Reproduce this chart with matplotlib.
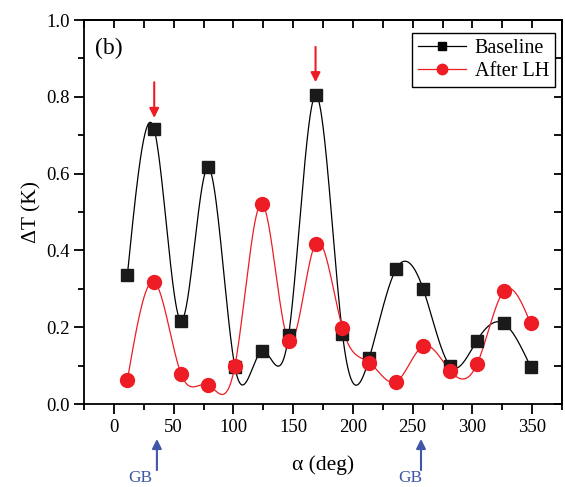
import numpy as np
import matplotlib
matplotlib.use("Agg")
from matplotlib import pyplot as plt
from matplotlib.ticker import MultipleLocator

# data
alpha = [11.25, 33.75, 56.25, 78.75, 101.25, 123.75, 146.25, 168.75,
         191.25, 213.75, 236.25, 258.75, 281.25, 303.75, 326.25, 348.75]
baseline = [0.335, 0.715, 0.217, 0.616, 0.097, 0.138, 0.180, 0.804,
            0.183, 0.120, 0.352, 0.300, 0.100, 0.165, 0.210, 0.097]
after_lh = [0.062, 0.318, 0.078, 0.050, 0.099, 0.522, 0.164, 0.418,
            0.198, 0.108, 0.058, 0.151, 0.087, 0.103, 0.294, 0.210]
peak_marks = [33.75, 168.75]
gb_marks = [36, 257]

plt.rcParams['font.family'] = ['Liberation Serif', 'DejaVu Serif']
plt.rcParams['axes.linewidth'] = 1.3


def spline(x, y, xs):
    # natural cubic spline, like the Origin "spline" line
    x = np.asarray(x, float); y = np.asarray(y, float)
    n = len(x); h = np.diff(x)
    A = np.zeros((n, n)); r = np.zeros(n)
    A[0, 0] = A[-1, -1] = 1
    for i in range(1, n - 1):
        A[i, i - 1] = h[i - 1]; A[i, i] = 2 * (h[i - 1] + h[i]); A[i, i + 1] = h[i]
        r[i] = 3 * ((y[i + 1] - y[i]) / h[i] - (y[i] - y[i - 1]) / h[i - 1])
    c = np.linalg.solve(A, r)
    b = np.diff(y) / h - h * (2 * c[:-1] + c[1:]) / 3
    d = np.diff(c) / (3 * h)
    k = np.clip(np.searchsorted(x, xs) - 1, 0, n - 2)
    t = xs - x[k]
    return y[k] + b[k] * t + c[k] * t ** 2 + d[k] * t ** 3


fig = plt.figure(figsize=(5.65, 4.87), dpi=100)
ax = fig.add_axes([0.1487, 0.1704, 0.846, 0.7885])

xs = np.linspace(alpha[0], alpha[-1], 800)
ax.plot(xs, spline(alpha, baseline, xs), color='black', lw=0.9)
ax.plot(xs, spline(alpha, after_lh, xs), color='#ee1c24', lw=0.9)
ax.plot(alpha, baseline, 's', color='#1a1a1a', ms=8.5, zorder=3)
ax.plot(alpha, after_lh, 'o', color='#ee1c24', ms=10, zorder=3)

# legend proxies
ax.plot([], [], '-s', color='black', ms=6, lw=0.9, label='Baseline')
ax.plot([], [], '-o', color='#ee1c24', ms=7.5, lw=0.9, label='After LH')
leg = ax.legend(loc='upper right', bbox_to_anchor=(0.985, 0.966), borderaxespad=0,
                fontsize=14.5, handlelength=2.4, fancybox=False, framealpha=1,
                edgecolor='black', handletextpad=0.4, borderpad=0.3, labelspacing=0.2)
leg.get_frame().set_linewidth(1.0)

ax.set_xlim(-25, 375)
ax.set_ylim(0, 1.0)
ax.xaxis.set_major_locator(MultipleLocator(50))
ax.xaxis.set_minor_locator(MultipleLocator(25))
ax.yaxis.set_major_locator(MultipleLocator(0.2))
ax.yaxis.set_minor_locator(MultipleLocator(0.1))
ax.yaxis.set_major_formatter(matplotlib.ticker.FormatStrFormatter('%.1f'))
ax.tick_params(which='major', direction='out', length=7, width=1.3, labelsize=13.5)
ax.tick_params(which='minor', direction='out', length=4, width=1.3)

# mirrored ticks pointing in on top and right
top = ax.secondary_xaxis('top')
top.xaxis.set_major_locator(MultipleLocator(50))
top.xaxis.set_minor_locator(MultipleLocator(25))
top.tick_params(which='both', direction='in', length=6, width=1.3, labeltop=False)
right = ax.secondary_yaxis('right')
right.yaxis.set_major_locator(MultipleLocator(0.2))
right.yaxis.set_minor_locator(MultipleLocator(0.1))
right.tick_params(which='both', direction='in', length=6, width=1.3, labelright=False)

ax.set_xlabel('α (deg)', fontsize=15.5, labelpad=14)
ax.set_ylabel('ΔT (K)', fontsize=15.5, labelpad=3)
ax.text(0.023, 0.927, '(b)', transform=ax.transAxes, fontsize=17, va='center', ha='left')

# red arrows over the peaks
for xm, y0, y1 in zip(peak_marks, [0.838, 0.93], [0.745, 0.838]):
    ax.annotate('', xy=(xm, y1), xytext=(xm, y0),
                arrowprops=dict(arrowstyle='-|>', color='#ee1c24', lw=1.5,
                                mutation_scale=14, shrinkA=0, shrinkB=0))

# grain boundary arrows under the axis
trans = ax.get_xaxis_transform()
blue = '#3f57a6'
for xm, xt in zip(gb_marks, [22.2, 247.8]):
    ax.annotate('', xy=(xm, -0.091), xytext=(xm, -0.172), xycoords=trans, textcoords=trans,
                annotation_clip=False,
                arrowprops=dict(arrowstyle='-|>', color=blue, lw=1.5,
                                mutation_scale=14, shrinkA=0, shrinkB=0))
    ax.text(xt, -0.204, 'GB', transform=trans, color=blue, fontsize=12.5,
            ha='center', va='baseline', clip_on=False)

fig.savefig('out.png', dpi=100)
